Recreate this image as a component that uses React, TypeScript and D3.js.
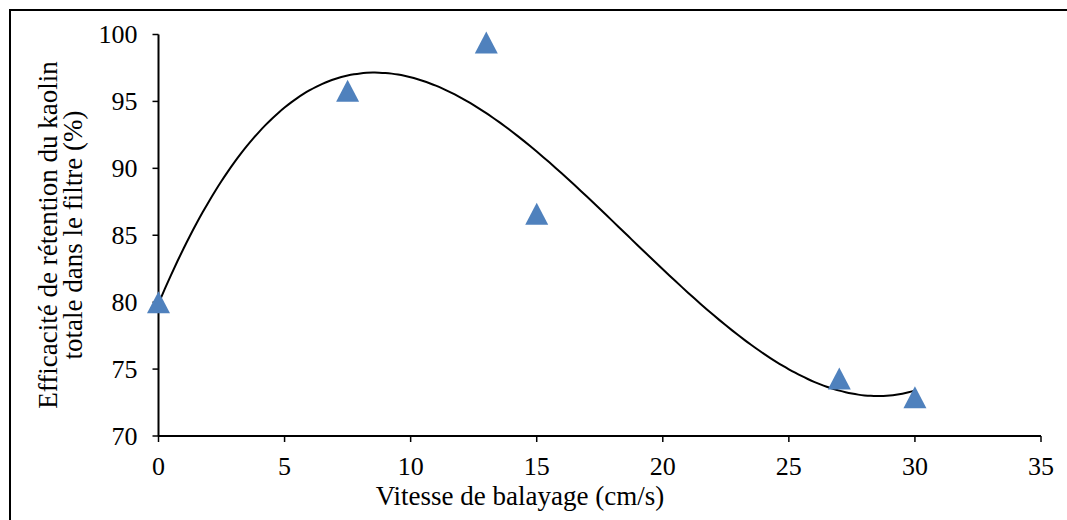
import * as d3 from "d3";

// measured points
const vitesse = [0, 7.5, 13, 15, 27, 30];
const efficacite = [80, 95.8, 99.4, 86.6, 74.3, 72.9];

const xTicks = [0, 5, 10, 15, 20, 25, 30, 35];
const yTicks = [70, 75, 80, 85, 90, 95, 100];

// least squares cubic trendline, like the spreadsheet "polynomial order 3"
function cubicFit(xs: number[], ys: number[]) {
  const n = 4;
  const A: number[][] = Array.from({ length: n }, () => new Array(n + 1).fill(0));
  xs.forEach((x, k) => {
    for (let i = 0; i < n; i++) {
      for (let j = 0; j < n; j++) A[i][j] += Math.pow(x, i + j);
      A[i][n] += ys[k] * Math.pow(x, i);
    }
  });
  for (let c = 0; c < n; c++) {
    let p = c;
    for (let r = c + 1; r < n; r++) if (Math.abs(A[r][c]) > Math.abs(A[p][c])) p = r;
    [A[c], A[p]] = [A[p], A[c]];
    for (let r = 0; r < n; r++) {
      if (r === c) continue;
      const f = A[r][c] / A[c][c];
      for (let k = c; k <= n; k++) A[r][k] -= f * A[c][k];
    }
  }
  const coef = A.map((row, i) => row[n] / row[i]);
  return (x: number) => coef.reduce((s, c, i) => s + c * Math.pow(x, i), 0);
}

export default function App() {
  const width = 1067;
  const height = 520;
  const marginLeft = 158.5;
  const marginRight = 26;
  const marginTop = 34.5;
  const marginBottom = 84;
  const font = "'Liberation Serif', 'Times New Roman', serif";
  const fs = 26;
  const titleFs = 27;

  const x = d3.scaleLinear([0, 35], [marginLeft, width - marginRight]);
  const y = d3.scaleLinear([70, 100], [height - marginBottom, marginTop]);

  const fit = cubicFit(vitesse, efficacite);
  const xs = d3.range(0, 30.001, 0.25);
  const line = d3.line<number>()
    .x((d) => x(d))
    .y((d) => y(fit(d)))
    .curve(d3.curveBasis);

  const tri = "M0,-11L11.5,11L-11.5,11Z";

  return (
    <svg
      width={width}
      height={height}
      style={{ position: "absolute", left: 0, top: 0, background: "#fff" }}
      fontFamily={font}
    >
      {/* outer frame, cropped on right and bottom */}
      <path d={`M10,${height + 5}V10H${width + 5}`} fill="none" stroke="#000" strokeWidth={2} />

      {/* y axis */}
      <line x1={marginLeft} x2={marginLeft} y1={y(100)} y2={y(70)} stroke="#000" strokeWidth={2} />
      {yTicks.map((t) => (
        <g key={t}>
          <line x1={marginLeft - 6} x2={marginLeft} y1={y(t)} y2={y(t)} stroke="#000" strokeWidth={1.5} />
          <text x={marginLeft - 21} y={y(t)} dy="0.33em" textAnchor="end" fontSize={fs}>
            {t}
          </text>
        </g>
      ))}

      {/* x axis */}
      <line x1={x(0)} x2={x(35)} y1={y(70)} y2={y(70)} stroke="#000" strokeWidth={2} />
      {xTicks.map((t) => (
        <g key={t}>
          <line x1={x(t)} x2={x(t)} y1={y(70)} y2={y(70) + 6} stroke="#000" strokeWidth={1.5} />
          <text x={x(t)} y={y(70) + 39} textAnchor="middle" fontSize={fs}>
            {t}
          </text>
        </g>
      ))}

      {/* trendline */}
      <path d={line(xs) ?? undefined} fill="none" stroke="#000" strokeWidth={2} />

      {/* points */}
      <g fill="#4f81bd">
        {vitesse.map((v, i) => (
          <path key={i} d={tri} transform={`translate(${x(v)},${y(efficacite[i])})`} />
        ))}
      </g>

      {/* axis titles */}
      <text x={520} y={505} textAnchor="middle" fontSize={titleFs}>
        Vitesse de balayage (cm/s)
      </text>
      <text transform="translate(57,235) rotate(-90)" textAnchor="middle" fontSize={titleFs}>
        Efficacité de rétention du kaolin
      </text>
      <text transform="translate(82,235) rotate(-90)" textAnchor="middle" fontSize={titleFs}>
        totale dans le filtre (%)
      </text>
    </svg>
  );
}
